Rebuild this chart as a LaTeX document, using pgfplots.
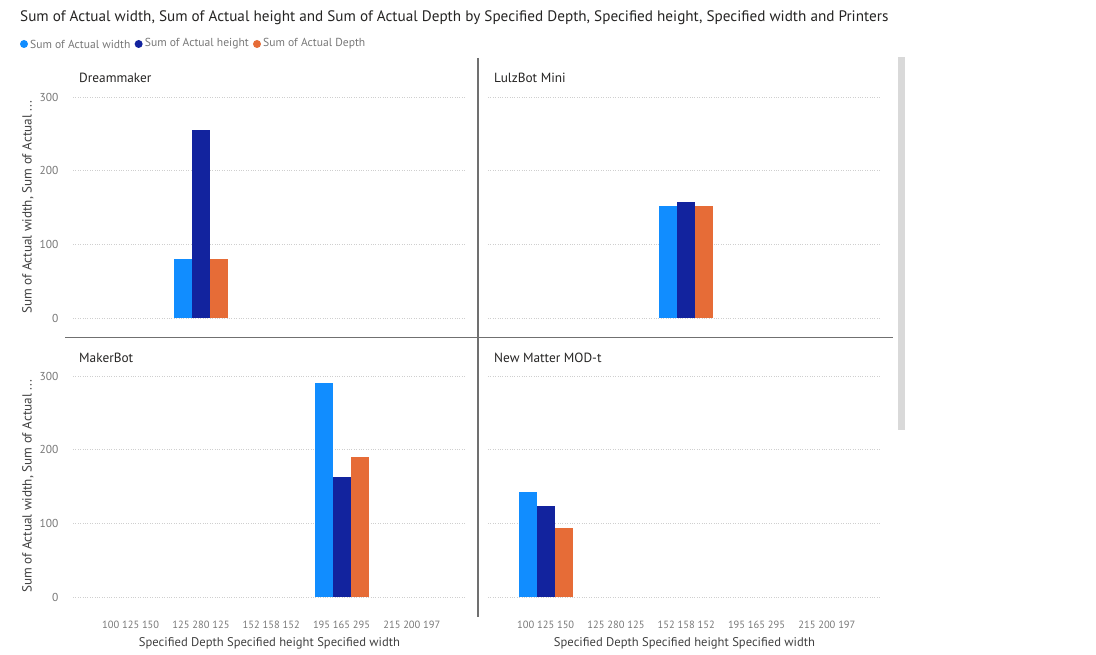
\documentclass[border=0pt]{standalone}
\usepackage{fontspec}
\setmainfont{PT Sans}
\usepackage{pgfplots}
\pgfplotsset{compat=1.18}
\definecolor{cA}{HTML}{118DFF}
\definecolor{cB}{HTML}{12239E}
\definecolor{cC}{HTML}{E66C37}
\definecolor{gridc}{HTML}{CFCFCF}
\definecolor{tickc}{HTML}{777777}
\definecolor{txt}{HTML}{252423}
\definecolor{lab}{HTML}{404040}
\definecolor{sep}{HTML}{707070}
\pgfplotsset{
 panel/.style={
  scale only axis, width=393pt, height=221pt,
  xmin=-0.82, xmax=4.77, ymin=0, ymax=300,
  axis line style={draw=none},
  major tick length=0pt,
  ytick={0,100,200,300},
  xtick={0,1,2,3,4},
  ymajorgrids, grid style={gridc, dotted, line width=0.9pt},
  ybar=0pt, bar width=18pt,
  tick label style={font=\fontsize{10.5}{12}\selectfont, text=tickc},
  xticklabels={}, yticklabels={},
  yticklabel style={xshift=-11pt, font=\fontsize{11.5}{13}\selectfont},
  xticklabel style={yshift=-20pt},
  clip=false,
 },
 leftp/.style={yticklabels={0,100,200,300},
  ylabel={Sum of Actual width, Sum of Actual ...},
  ylabel style={at={(axis description cs:-0.115,0.5)}, anchor=center, rotate=0, font=\fontsize{13.2}{15}\selectfont, text=lab}},
 bottomp/.style={xticklabels={100 125 150, 125 280 125, 152 158 152, 195 165 295, 215 200 197},
  xlabel={Specified Depth Specified height Specified width},
  xlabel style={at={(axis description cs:0.5,-0.21)}, anchor=center, font=\fontsize{12.6}{14}\selectfont, text=lab}},
}
\begin{document}
\begin{tikzpicture}[x=1pt,y=1pt]
\useasboundingbox (0,0) rectangle (1096,655);
% title and legend
\node[anchor=west, inner sep=0, font=\fontsize{15.2}{17}\selectfont, text=txt] at (20,637) {Sum of Actual width, Sum of Actual height and Sum of Actual Depth by Specified Depth, Specified height, Specified width and Printers};
\fill[cA] (24,611) circle (4);
\node[anchor=west, inner sep=0, font=\fontsize{11.6}{13}\selectfont, text=tickc] (t1) at (30,611) {Sum of Actual width};
\fill[cB] ([xshift=8pt]t1.east) circle (4);
\node[anchor=west, inner sep=0, font=\fontsize{11.6}{13}\selectfont, text=tickc] (t2) at ([xshift=14pt]t1.east) {Sum of Actual height};
\fill[cC] ([xshift=8pt]t2.east) circle (4);
\node[anchor=west, inner sep=0, font=\fontsize{11.6}{13}\selectfont, text=tickc] at ([xshift=14pt]t2.east) {Sum of Actual Depth};
% separators and scrollbar
\draw[sep, line width=1.4pt] (65,317.5) -- (893,317.5);
\draw[sep, line width=1.4pt] (478,597) -- (478,38);
\fill[gray!30] (898,225) rectangle (905,598);
% panel titles
\node[anchor=west, inner sep=0, font=\fontsize{13.3}{15}\selectfont, text=txt] at (79,577) {Dreammaker};
\node[anchor=west, inner sep=0, font=\fontsize{13.3}{15}\selectfont, text=txt] at (494,577) {LulzBot Mini};
\node[anchor=west, inner sep=0, font=\fontsize{13.3}{15}\selectfont, text=txt] at (79,297) {MakerBot};
\node[anchor=west, inner sep=0, font=\fontsize{13.3}{15}\selectfont, text=txt] at (494,297) {New Matter MOD-t};
% Dreammaker
\begin{axis}[panel, leftp, at={(73pt,337pt)}, anchor=south west]
\addplot[fill=cA, draw=none] coordinates {(1,80)};
\addplot[fill=cB, draw=none] coordinates {(1,255)};
\addplot[fill=cC, draw=none] coordinates {(1,80)};
\end{axis}
% LulzBot Mini
\begin{axis}[panel, at={(488pt,337pt)}, anchor=south west]
\addplot[fill=cA, draw=none] coordinates {(2,152)};
\addplot[fill=cB, draw=none] coordinates {(2,158)};
\addplot[fill=cC, draw=none] coordinates {(2,152)};
\end{axis}
% MakerBot
\begin{axis}[panel, leftp, bottomp, at={(73pt,58pt)}, anchor=south west]
\addplot[fill=cA, draw=none] coordinates {(3,290)};
\addplot[fill=cB, draw=none] coordinates {(3,163)};
\addplot[fill=cC, draw=none] coordinates {(3,190)};
\end{axis}
% New Matter MOD-t
\begin{axis}[panel, bottomp, at={(488pt,58pt)}, anchor=south west]
\addplot[fill=cA, draw=none] coordinates {(0,143)};
\addplot[fill=cB, draw=none] coordinates {(0,124)};
\addplot[fill=cC, draw=none] coordinates {(0,94)};
\end{axis}
\end{tikzpicture}
\end{document}
